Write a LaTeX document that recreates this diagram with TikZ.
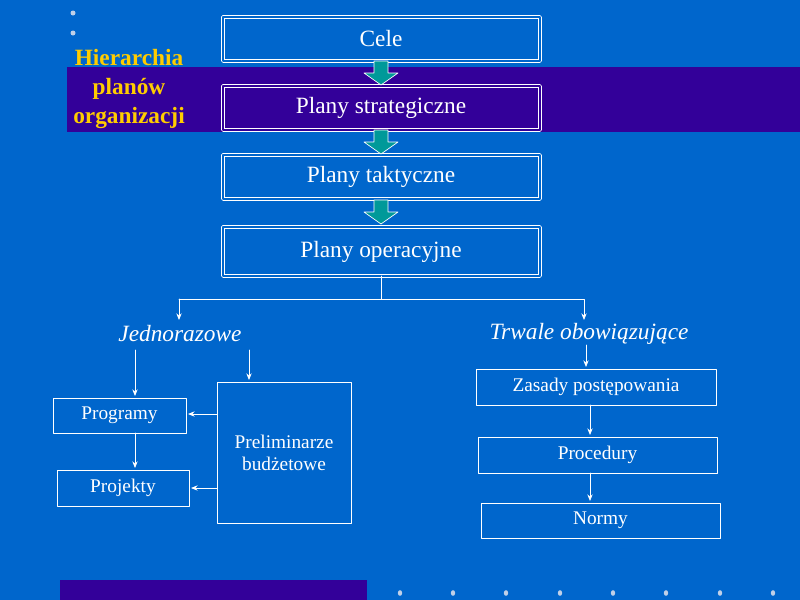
\documentclass[tikz,border=0pt]{standalone}
\usepackage{fontspec}
\setmainfont{Liberation Serif}
\usetikzlibrary{arrows.meta}
\definecolor{bgblue}{HTML}{0066CC}
\definecolor{band}{HTML}{330099}
\definecolor{teal}{HTML}{009999}
\definecolor{gold}{HTML}{FFCC00}
\definecolor{dot}{HTML}{C0D0E8}
\tikzset{
  box/.style={draw=white,double=bgblue,double distance=1.5pt,line width=0.6pt,inner sep=0pt},
  thin/.style={draw=white,line width=0.7pt},
  conn/.style={white,line width=0.6pt,-{Stealth[length=5pt,width=4pt]}},
  big/.style={text=white,font=\fontsize{17.5}{19}\selectfont},
  small/.style={text=white,font=\fontsize{14.5}{17}\selectfont},
}
\newcommand{\blockarr}[2]{% x, top y
  \draw[white,fill=teal,line width=0.5pt] (#1-7,#2) -- (#1+7,#2) -- (#1+7,#2+12) -- (#1+17,#2+12)
    -- (#1,#2+24) -- (#1-17,#2+12) -- (#1-7,#2+12) -- cycle;}
\begin{document}
\begin{tikzpicture}[x=0.75pt,y=-0.75pt,line cap=round,line join=round]
\fill[bgblue] (0,0) rectangle (800,600);
\useasboundingbox (0,0) rectangle (800,600);
\fill[band] (67,67) rectangle (800,132);
\fill[band] (60,580) rectangle (367,600);
\foreach \x in {400,453,506,560,613,666,720,773}
  \fill[dot] (\x,593) ellipse (2.2 and 2.8);
\foreach \y in {13,33}
  \fill[dot] (73,\y) circle (2.5);
% title
\node[text=gold,font=\bfseries\fontsize{17.5}{22}\selectfont,align=center] (title) at (129,89) {Hierarchia\\planów\\organizacji};
% hierarchy
\draw[box] (223,17) rectangle (540,61);
\node[big] (cele) at (381,39) {Cele};
\draw[box,double=band] (223,86) rectangle (540,130);
\node[big] (strat) at (381,108) {Plany strategiczne};
\draw[box] (223,155) rectangle (540,199);
\node[big] (takt) at (381,177) {Plany taktyczne};
\draw[box] (223,227) rectangle (540,276);
\node[big] (oper) at (381,252) {Plany operacyjne};
\blockarr{381}{61}
\blockarr{381}{130}
\blockarr{381}{200}
% branches
\coordinate (op) at (381,276);
\coordinate (jl) at (179,320);
\coordinate (tr) at (584,320);
\draw[white,line width=0.6pt] (op) -- (381,299) -- (179,299);
\draw[conn] (179,299) -- (jl);
\draw[conn] (381,299) -- (584,299) -- (tr);
\node[big,font=\itshape\fontsize{17.5}{19}\selectfont] (jedn) at (180,334) {Jednorazowe};
\node[big,font=\itshape\fontsize{17.5}{19}\selectfont] (trw) at (589,334) {Trwale obowiązujące};
% left
\draw[thin] (53,398) rectangle (186,433);
\node[small] (prog) at (119.5,415.5) {Programy};
\draw[thin] (57,470) rectangle (189,506);
\node[small] (proj) at (123,488) {Projekty};
\draw[thin] (217,382) rectangle (351,523);
\node[small,align=center] (prel) at (284,453) {Preliminarze\\budżetowe};
\draw[conn] (135,350) -- (135,396);
\draw[conn] (249,350) -- (249,380);
\draw[conn] (135,433) -- (135,468);
\draw[conn] (217,414) -- (188,414);
\draw[conn] (217,488) -- (191,488);
% right
\draw[thin] (476,369) rectangle (716,405);
\node[small] (zas) at (596,387) {Zasady postępowania};
\draw[thin] (478,437) rectangle (717,473);
\node[small] (proc) at (597.5,455) {Procedury};
\draw[thin] (481,503) rectangle (720,538);
\node[small] (norm) at (600.5,520.5) {Normy};
\draw[conn] (586,345) -- (586,367);
\draw[conn] (590,405) -- (590,435);
\draw[conn] (590,473) -- (590,501);
\end{tikzpicture}
\end{document}
